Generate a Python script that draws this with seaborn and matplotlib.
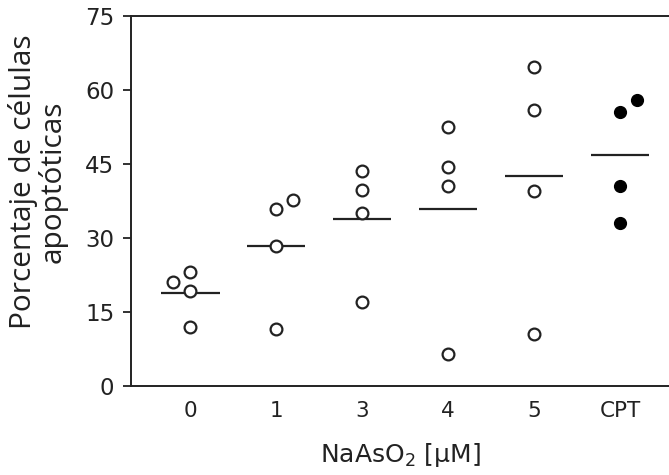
import matplotlib
matplotlib.use("Agg")
import matplotlib.pyplot as plt
import seaborn as sns
import pandas as pd
import numpy as np

# ---- data ----
categories = ["0", "1", "3", "4", "5", "CPT"]
vals_0 = [21.1, 23.2, 19.2, 11.9]
vals_1 = [35.9, 37.8, 28.4, 11.6]
vals_3 = [43.6, 39.7, 35.0, 17.1]
vals_4 = [52.4, 44.3, 40.5, 6.4]
vals_5 = [64.6, 55.9, 39.6, 10.5]
vals_cpt = [55.6, 57.9, 40.6, 33.0]
# side-by-side placement of overlapping points (-1 left, 0 centre, +1 right)
side_0 = [-1, 0, 0, 0]
side_1 = [0, 1, 0, 0]
side_3 = [0, 0, 0, 0]
side_4 = [0, 0, 0, 0]
side_5 = [0, 0, 0, 0]
side_cpt = [0, 1, 0, 0]
filled = [False, False, False, False, False, True]
y_ticks = [0, 15, 30, 45, 60, 75]

groups = [vals_0, vals_1, vals_3, vals_4, vals_5, vals_cpt]
sides = [side_0, side_1, side_3, side_4, side_5, side_cpt]

rows = []
for i, (cat, vals, sd) in enumerate(zip(categories, groups, sides)):
    for v, s in zip(vals, sd):
        rows.append({"cat": cat, "idx": i, "side": s, "value": v,
                     "filled": filled[i]})
df = pd.DataFrame(rows)
df["xpos"] = df["idx"] + df["side"] * 0.2
means = df.groupby("idx")["value"].mean()

sns.set_theme(style="white")
plt.rcParams["font.family"] = ["DejaVu Sans"]

fig = plt.figure(figsize=(6.69, 4.75), dpi=100)
ax = fig.add_axes([131 / 669, (475 - 386) / 475, 1 - 131 / 669, 370 / 475])

open_df = df[~df["filled"]]
fill_df = df[df["filled"]]
sns.scatterplot(data=open_df, x="xpos", y="value", ax=ax, marker="o",
                s=72, facecolor="white", edgecolor="#222222", linewidth=1.6,
                legend=False, zorder=3)
sns.scatterplot(data=fill_df, x="xpos", y="value", ax=ax, marker="o",
                s=72, color="black", edgecolor="black", linewidth=1.0,
                legend=False, zorder=3)

for i, m in means.items():
    ax.hlines(m, i - 0.34, i + 0.34, color="#222222", linewidth=1.6, zorder=2)

ax.set_xlim(-0.69, 5.57)
ax.set_ylim(0, 75)
ax.set_yticks(y_ticks)
ax.set_xticks(range(len(categories)))
ax.set_xticklabels(categories)

for sp in ["left", "bottom", "top"]:
    ax.spines[sp].set_visible(True)
    ax.spines[sp].set_color("#222222")
    ax.spines[sp].set_linewidth(1.4)
ax.spines["right"].set_visible(False)

ax.tick_params(axis="y", which="both", left=True, length=6, width=1.3,
               color="#222222", labelsize=16.5, pad=6, labelcolor="#222222")
ax.tick_params(axis="x", bottom=False, labelsize=15.5, pad=5,
               labelcolor="#222222")

ax.set_xlabel(r"NaAsO$_2$ [$\mathrm{\mu}$M]", fontsize=18, color="#222222",
              labelpad=14)
ax.set_ylabel("Porcentaje de células\napoptóticas", fontsize=21.5,
              color="#222222", linespacing=1.0, family=["Open Sans"])
ax.yaxis.set_label_coords(-0.117, 0.551)

fig.savefig("out.png", dpi=100)
